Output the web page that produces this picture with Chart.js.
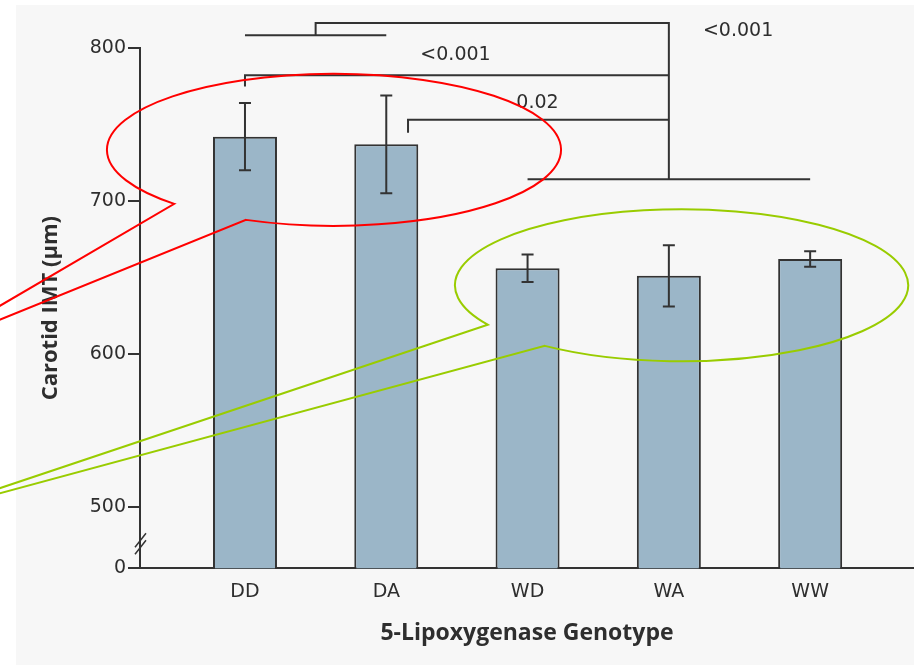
<!DOCTYPE html>
<html>
<head>
<meta charset="utf-8">
<script src="https://cdn.jsdelivr.net/npm/chart.js@4/dist/chart.umd.min.js"></script>
<style>
  html, body { margin: 0; padding: 0; background: #ffffff; }
  canvas { display: block; }
</style>
</head>
<body>
<canvas id="imt" width="914" height="665"></canvas>
<script>
// Carotid intima-media thickness by 5-lipoxygenase genotype
const genotypes = ['DD', 'DA', 'WD', 'WA', 'WW'];
const meanIMT = [742, 737, 656, 651, 662];
const errIMT = [22, 32, 9, 20, 5];
const yTickValues = [500, 600, 700, 800];
const axisFloor = 459.7;      // value shown as "0" below the axis break

// significance brackets (x in genotype index units, y in µm)
const bracketPaths = [
  [[0, 808.3], [1, 808.3]],
  [[0.5, 808.3], [0.5, 816.4], [3, 816.4], [3, 714.1]],
  [[2, 714.1], [4, 714.1]],
  [[0, 774.9], [0, 782.2], [3, 782.2]],
  [[1.154, 744.5], [1.154, 753], [3, 753]]
];
const pLabels = ['<0.001', '<0.001', '0.02'];
const pLabelX = [3.49, 1.49, 2.07];
const pLabelY = [810.9, 795.6, 764.2];

// highlight callouts around the two genotype groups
const calloutColors = ['#ff0000', '#99cc00'];
const calloutCenters = [[0.63, 733.4], [3.09, 644.8]];
const calloutRadii = [[1.607, 49.7], [1.604, 49.7]];
const calloutArcs = [[134.7, 112.8], [148.8, 127.1]];
const calloutTips = [[-2.28, 601.9], [-2.28, 495.2]];

const ink = '#333333';
const textInk = '#2e2e2e';
const numFont = '"DejaVu Sans", sans-serif';
const titleFont = '"Open Sans", sans-serif';

const overlay = {
  id: 'overlay',
  beforeDraw(chart) {
    const ctx = chart.ctx;
    ctx.save();
    ctx.fillStyle = '#ffffff';
    ctx.fillRect(0, 0, chart.width, chart.height);
    ctx.fillStyle = '#f7f7f7';
    ctx.fillRect(16, 5, chart.width - 16, chart.height - 5);
    ctx.restore();
  },
  afterDatasetsDraw(chart) {
    const ctx = chart.ctx;
    const xs = chart.scales.x, ys = chart.scales.y;
    const px = v => xs.getPixelForValue(v);
    const py = v => ys.getPixelForValue(v);
    ctx.save();
    ctx.strokeStyle = ink;
    ctx.lineWidth = 2;
    ctx.lineCap = 'butt';
    // error bars
    meanIMT.forEach((m, i) => {
      const x = px(i), t = py(m + errIMT[i]), b = py(m - errIMT[i]);
      ctx.beginPath();
      ctx.moveTo(x, t); ctx.lineTo(x, b);
      ctx.moveTo(x - 6, t); ctx.lineTo(x + 6, t);
      ctx.moveTo(x - 6, b); ctx.lineTo(x + 6, b);
      ctx.stroke();
    });
    // axis break
    const ax = xs.left, by = py(axisFloor) - 24;
    ctx.lineWidth = 1.5;
    ctx.beginPath();
    [-4, 3].forEach(d => {
      ctx.moveTo(ax - 5, by + d + 7);
      ctx.lineTo(ax + 6, by + d - 7);
    });
    ctx.stroke();
    ctx.restore();
  },
  afterDraw(chart) {
    const ctx = chart.ctx;
    const xs = chart.scales.x, ys = chart.scales.y;
    const px = v => xs.getPixelForValue(v);
    const py = v => ys.getPixelForValue(v);
    ctx.save();
    // brackets
    ctx.strokeStyle = ink;
    ctx.lineWidth = 2;
    bracketPaths.forEach(path => {
      ctx.beginPath();
      path.forEach(([x, y], k) => {
        if (k === 0) ctx.moveTo(px(x), py(y)); else ctx.lineTo(px(x), py(y));
      });
      ctx.stroke();
    });
    ctx.fillStyle = textInk;
    ctx.font = '19px ' + numFont;
    ctx.textAlign = 'center';
    ctx.textBaseline = 'middle';
    pLabels.forEach((t, i) => ctx.fillText(t, px(pLabelX[i]), py(pLabelY[i])));
    // callouts
    const unitX = px(1) - px(0), unitY = py(0) - py(1);
    ctx.lineWidth = 2;
    ctx.lineJoin = 'miter';
    calloutCenters.forEach(([cx, cy], i) => {
      const rx = calloutRadii[i][0] * unitX, ry = calloutRadii[i][1] * unitY;
      const a1 = calloutArcs[i][0] * Math.PI / 180;
      const a2 = (calloutArcs[i][1] + 360) * Math.PI / 180;
      ctx.strokeStyle = calloutColors[i];
      ctx.beginPath();
      ctx.ellipse(px(cx), py(cy), rx, ry, 0, a1, a2, false);
      ctx.lineTo(px(calloutTips[i][0]), py(calloutTips[i][1]));
      ctx.closePath();
      ctx.stroke();
    });
    ctx.restore();
  }
};

new Chart(document.getElementById('imt'), {
  type: 'bar',
  data: {
    datasets: [{
      data: meanIMT.map((v, i) => ({ x: i, y: v })),
      backgroundColor: '#9bb6c8',
      borderColor: ink,
      borderWidth: 2,
      categoryPercentage: 1,
      barPercentage: 0.453
    }]
  },
  options: {
    responsive: false,
    animation: false,
    events: [],
    layout: { padding: { top: 48, right: 0, bottom: 0, left: 0 } },
    plugins: { legend: { display: false }, tooltip: { enabled: false } },
    scales: {
      x: {
        type: 'linear',
        offset: false,
        min: -0.743,
        max: 4.735,
        grid: { display: false },
        border: { display: true, color: ink, width: 2 },
        afterBuildTicks: s => { s.ticks = genotypes.map((g, i) => ({ value: i })); },
        afterFit: s => { s.height = 96.7; },
        ticks: {
          autoSkip: false,
          maxRotation: 0,
          padding: 4,
          color: textInk,
          font: { family: numFont, size: 19 },
          callback: v => genotypes[v]
        },
        title: {
          display: true,
          text: '5-Lipoxygenase Genotype',
          color: textInk,
          font: { family: titleFont, size: 23, weight: 'bold' },
          padding: { top: 0, bottom: 18 }
        }
      },
      y: {
        min: axisFloor,
        max: 800,
        afterBuildTicks: s => { s.ticks = [axisFloor, ...yTickValues].map(v => ({ value: v })); },
        afterFit: s => { s.width = 140; },
        grid: { drawOnChartArea: false, drawTicks: true, tickLength: 12, color: ink, lineWidth: 2 },
        border: { display: true, color: ink, width: 2 },
        ticks: {
          padding: 2,
          color: textInk,
          font: { family: numFont, size: 19 },
          callback: v => (v === axisFloor ? '0' : String(v))
        },
        title: {
          display: true,
          text: 'Carotid IMT (μm)',
          color: textInk,
          font: { family: titleFont, size: 22, weight: 'bold' },
          padding: { top: 38, bottom: 0 }
        }
      }
    }
  },
  plugins: [overlay]
});
</script>
</body>
</html>
